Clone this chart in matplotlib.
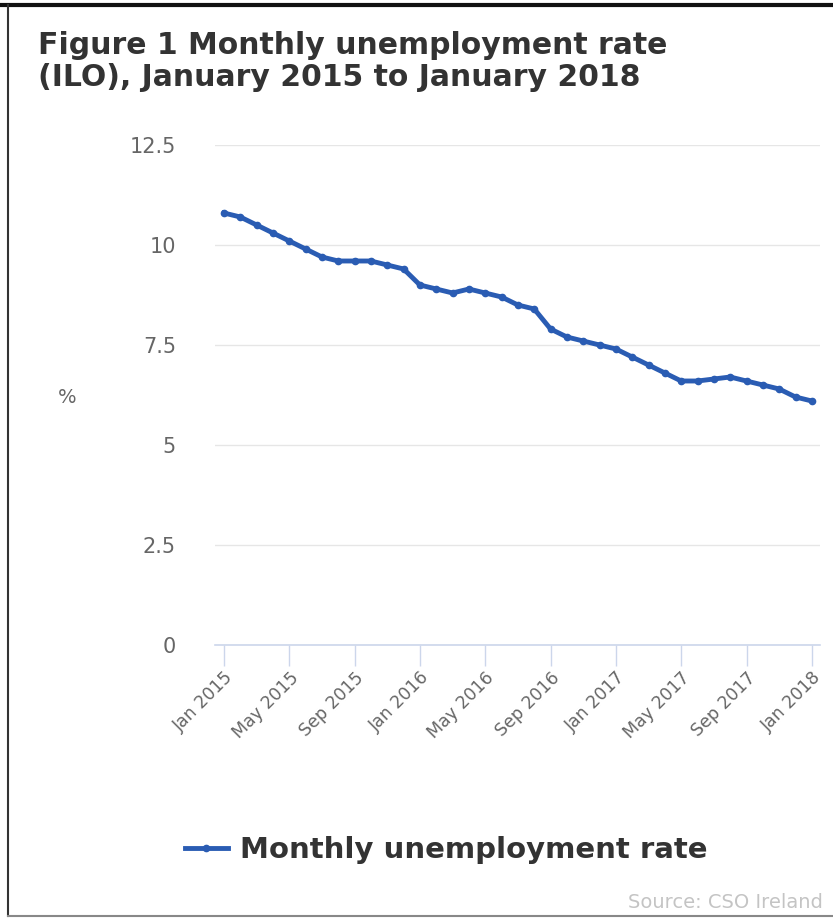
import matplotlib
matplotlib.use('Agg')
import matplotlib.pyplot as plt
from matplotlib.lines import Line2D
import numpy as np

# Monthly unemployment rate (ILO), Jan 2015 - Jan 2018
months = ['Jan 2015', 'Feb 2015', 'Mar 2015', 'Apr 2015', 'May 2015', 'Jun 2015',
	'Jul 2015', 'Aug 2015', 'Sep 2015', 'Oct 2015', 'Nov 2015', 'Dec 2015',
	'Jan 2016', 'Feb 2016', 'Mar 2016', 'Apr 2016', 'May 2016', 'Jun 2016',
	'Jul 2016', 'Aug 2016', 'Sep 2016', 'Oct 2016', 'Nov 2016', 'Dec 2016',
	'Jan 2017', 'Feb 2017', 'Mar 2017', 'Apr 2017', 'May 2017', 'Jun 2017',
	'Jul 2017', 'Aug 2017', 'Sep 2017', 'Oct 2017', 'Nov 2017', 'Dec 2017',
	'Jan 2018']
rate = [10.8, 10.7, 10.5, 10.3, 10.1, 9.9, 9.7, 9.6, 9.6, 9.6, 9.5, 9.4,
	9.0, 8.9, 8.8, 8.9, 8.8, 8.7, 8.5, 8.4, 7.9, 7.7, 7.6, 7.5,
	7.4, 7.2, 7.0, 6.8, 6.6, 6.6, 6.65, 6.7, 6.6, 6.5, 6.4, 6.2,
	6.1]
y_ticks = [0, 2.5, 5, 7.5, 10, 12.5]
y_tick_labels = ['0', '2.5', '5', '7.5', '10', '12.5']

line_color = '#2a5cb3'
W, H = 833, 923

fig = plt.figure(figsize=(W / 100, H / 100), dpi=100)
ax = fig.add_axes([215 / W, 1 - 645 / H, (820 - 215) / W, (645 - 145) / H])

x = np.arange(len(rate))
ax.plot(x, rate, color=line_color, lw=3.5, marker='o', ms=4.5, zorder=3)

ax.set_ylim(0, 12.5)
ax.set_xlim(-0.55, 36.5)
ax.set_yticks(y_ticks)
ax.set_yticklabels(y_tick_labels)
ax.grid(axis='y', color='#e6e6e6', lw=1)
ax.set_axisbelow(True)

tick_pos = x[::4]
ax.set_xticks(tick_pos)
ax.set_xticklabels([months[i] for i in tick_pos], rotation=45, ha='right',
	rotation_mode='anchor', fontsize=12.5, color='#666666')
ax.tick_params(axis='x', length=15, color='#ccd6eb', width=1, pad=2)
ax.tick_params(axis='y', length=0, labelsize=15, labelcolor='#666666', pad=28)

for s in ['top', 'right', 'left']:
	ax.spines[s].set_visible(False)
ax.spines['bottom'].set_color('#ccd6eb')
ax.spines['bottom'].set_linewidth(1.2)

fig.text(67 / W, 1 - 398 / H, '%', fontsize=14, color='#666666', ha='center', va='center')

# Title
fig.text(38 / W, 1 - 45 / H, 'Figure 1 Monthly unemployment rate', fontsize=21.5,
	fontweight='bold', color='#333333', va='center', ha='left')
fig.text(38 / W, 1 - 77 / H, '(ILO), January 2015 to January 2018', fontsize=21.5,
	fontweight='bold', color='#333333', va='center', ha='left')

# Legend
handle = Line2D([], [], color=line_color, lw=3.5, marker='o', ms=4.5)
fig.legend([handle], ['Monthly unemployment rate'], loc='center',
	bbox_to_anchor=(446 / W, 1 - 850 / H), frameon=False, handlelength=1.5,
	handletextpad=0.4, prop={'weight': 'bold', 'size': 21}, labelcolor='#333333')

fig.text(823 / W, 1 - 903 / H, 'Source: CSO Ireland', fontsize=14, color='#c4c4c4',
	ha='right', va='center')

# Frame around the figure
fig.add_artist(Line2D([0, 1], [1 - 5 / H, 1 - 5 / H], transform=fig.transFigure, color='#111111', lw=3))
fig.add_artist(Line2D([8 / W, 8 / W], [1 - 5 / H, 1 - 916 / H], transform=fig.transFigure, color='#333333', lw=1.5))
fig.add_artist(Line2D([8 / W, 1], [1 - 916 / H, 1 - 916 / H], transform=fig.transFigure, color='#888888', lw=1.5))

fig.savefig('out.png', dpi=100)
